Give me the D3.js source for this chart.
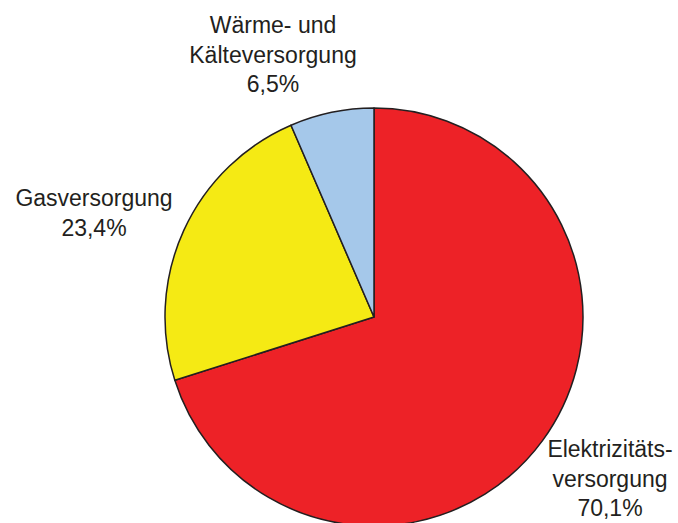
<!DOCTYPE html>
<html>
<head>
<meta charset="utf-8">
<script src="https://cdn.jsdelivr.net/npm/d3@7"></script>
<style>
  body { margin: 0; background: #fff; }
  text { font-family: "Liberation Sans", Arial, sans-serif; fill: #231f20; }
</style>
</head>
<body>
<div id="chart"></div>
<script>
// chart data
const categories = ["Elektrizitätsversorgung", "Gasversorgung", "Wärme- und Kälteversorgung"];
const shares = [70.1, 23.4, 6.5];
const labelLines = [
  ["Elektrizitäts-", "versorgung", "70,1%"],
  ["Gasversorgung", "23,4%"],
  ["Wärme- und", "Kälteversorgung", "6,5%"]
];
const colors = ["#ed2227", "#f5ea14", "#a5c8ea"];

const width = 678;
const height = 523;
const cx = 374, cy = 317, radius = 209;

// where each label block sits (x center, first baseline)
const labelPos = [[610, 457], [94, 206], [273, 33]];
const lineGap = 29.5;

const svg = d3.select("#chart")
  .append("svg")
  .attr("width", width)
  .attr("height", height);

const pie = d3.pie().sort(null).value(d => d);
const arc = d3.arc().innerRadius(0).outerRadius(radius);

const g = svg.append("g").attr("transform", `translate(${cx},${cy})`);

g.selectAll("path")
  .data(pie(shares))
  .enter()
  .append("path")
  .attr("d", arc)
  .attr("fill", (d, i) => colors[i])
  .attr("stroke", "#231f20")
  .attr("stroke-width", 1.5)
  .attr("stroke-linejoin", "round");

// labels
labelLines.forEach((lines, i) => {
  const t = svg.append("text")
    .attr("text-anchor", "middle")
    .attr("font-size", 23);
  lines.forEach((line, j) => {
    t.append("tspan")
      .attr("x", labelPos[i][0])
      .attr("y", labelPos[i][1] + j * lineGap)
      .text(line);
  });
});
</script>
</body>
</html>
